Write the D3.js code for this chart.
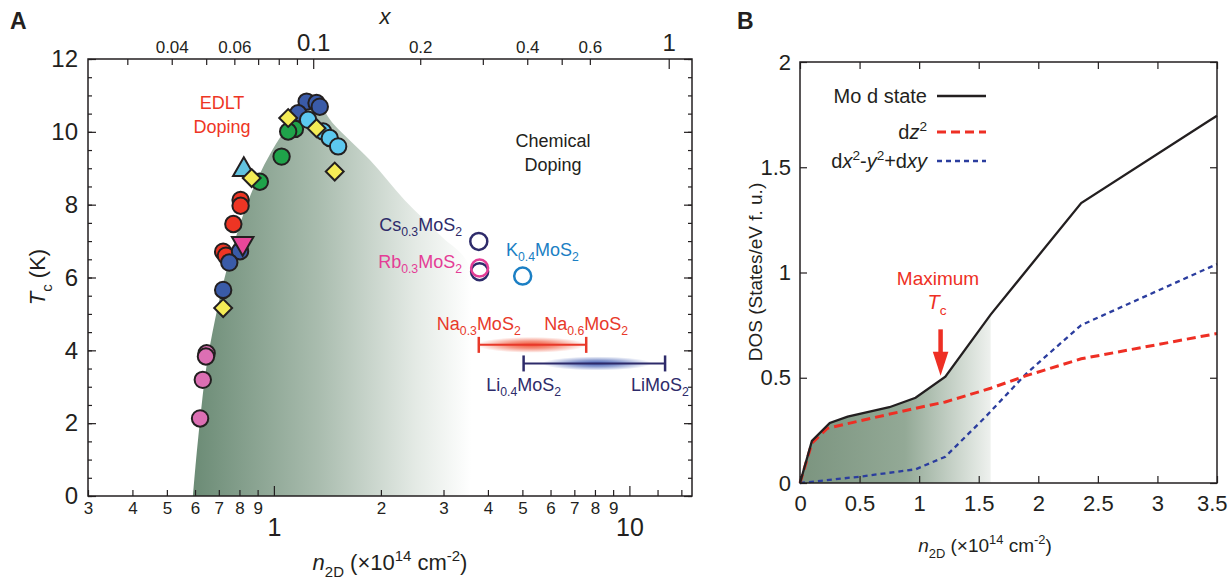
<!DOCTYPE html>
<html>
<head>
<meta charset="utf-8">
<script src="https://cdn.jsdelivr.net/npm/d3@7"></script>
<style>
  body { margin: 0; background: #fff; }
  svg { font-family: "Liberation Sans", Arial, sans-serif; }
</style>
</head>
<body>
<svg width="1229" height="579"></svg>
<script>
// ---- panel A data (n2D in 1e14 cm^-2, Tc in K) ----
var nPerX = 12.9; // n2D corresponding to x = 1
var edltPink = [[0.647,3.92],[0.644,3.83],[0.631,3.19],[0.62,2.13]];
var edltRed = [[0.806,8.13],[0.806,7.97],[0.769,7.47],[0.72,6.71],[0.733,6.6]];
var edltBlue = [[1.236,10.83],[1.318,10.79],[1.346,10.69],[1.17,10.51],[0.803,6.72],[0.749,6.41],[0.72,5.66]];
var edltGreen = [[1.146,10.08],[1.097,10.01],[1.051,9.32],[0.913,8.63]];
var edltLightBlue = [[1.248,10.33],[1.375,10.01],[1.436,9.83],[1.516,9.6]];
var edltYellow = [[1.097,10.38],[1.318,10.1],[1.483,8.91],[0.866,8.73],[0.72,5.16]];
var triUp = [[0.823,8.96]];
var triDown = [[0.817,6.94]];
var domeOutline = [[0.592,0],[0.604,0.99],[0.62,2.09],[0.644,3.46],[0.683,4.84],[0.743,6.35],[0.829,7.86],
  [0.925,8.96],[1.074,10.05],[1.222,10.74],[1.33,10.74],[1.48,10.19],[1.86,9.23],[2.33,8.13],[2.93,7.17],[3.55,6.29],[3.55,0]];
var csPoint = [3.77,6.99], rbPoint = [3.79,6.26], rbDark = [3.79,6.16], kPoint = [5.01,6.04];
var naRange = [3.77,7.56], naTc = 4.15, naCenter = 5.3;
var liRange = [5.04,12.6], liTc = 3.64, liCenter = 8.1;

var bottomSmallTicks = [0.3,0.4,0.5,0.6,0.7,0.8,0.9,2,3,4,5,6,7,8,9];
var bottomBigTicks = [1,10];
var bottomExtraTicks = [12,14];
var topTicks = [0.03,0.04,0.05,0.06,0.07,0.08,0.09,0.2,0.3,0.4,0.5,0.6];
var topSmallLabels = [0.04,0.06,0.2,0.4,0.6];
var topBigTicks = [0.1,1];
var tcTicks = [0,2,4,6,8,10,12];

// ---- panel B data (n2D vs DOS) ----
var moD = [[0,0],[0.1,0.2],[0.25,0.285],[0.4,0.315],[0.75,0.36],[0.97,0.405],[1.22,0.505],[1.6,0.8],[2.36,1.33],[3.43,1.72],[3.5,1.745]];
var dz2 = [[0,0],[0.1,0.19],[0.23,0.26],[0.5,0.295],[0.97,0.355],[1.22,0.385],[1.6,0.45],[1.9,0.51],[2.36,0.59],[3.5,0.71]];
var dxy = [[0,0],[0.5,0.03],[0.97,0.065],[1.22,0.125],[1.55,0.31],[1.9,0.52],[2.36,0.75],[3.5,1.04]];
var shadeMax = 1.6;
var maxTcN = 1.18;
var bTicksX = [0,0.5,1,1.5,2,2.5,3,3.5];
var bTicksY = [0,0.5,1,1.5,2];

var svg = d3.select("svg");
svg.append("rect").attr("width","100%").attr("height","100%").attr("fill","white");
var defs = svg.append("defs");
var ink = "#231f20";

function addAxis(axis, tx, ty, fs) {
  var g = svg.append("g").attr("transform", "translate(" + tx + "," + ty + ")").call(axis);
  g.attr("font-family", null).attr("font-size", fs || 10);
  g.select(".domain").remove();
  g.selectAll("line").attr("stroke", ink).attr("stroke-width", 1.2);
  g.selectAll("text").attr("fill", ink);
  return g;
}

// text with sub/superscripts and italics
function richText(x, y, parts, size, color, anchor) {
  var t = svg.append("text").attr("x", x).attr("y", y).attr("font-size", size)
    .attr("fill", color).attr("text-anchor", anchor || "start");
  var shift = 0;
  parts.forEach(function(p) {
    var s = t.append("tspan").text(p.t);
    var target = p.sub ? size * 0.3 : p.sup ? -size * 0.4 : 0;
    if (target !== shift) { s.attr("dy", target - shift); shift = target; }
    if (p.sub || p.sup) s.attr("font-size", size * 0.68);
    if (p.it) s.attr("font-style", "italic");
  });
  return t;
}

// ================= Panel A =================
var xA = d3.scaleLog().domain([0.3, 15]).range([88, 692]);
var yA = d3.scaleLinear().domain([0, 12]).range([496, 59]);
var xTop = d3.scaleLog().domain([0.3 / nPerX, 15 / nPerX]).range([88, 692]);

var gradA = defs.append("linearGradient").attr("id", "gradA")
  .attr("gradientUnits", "userSpaceOnUse")
  .attr("x1", xA(0.59)).attr("x2", xA(3.6)).attr("y1", 0).attr("y2", 0);
gradA.append("stop").attr("offset", 0).attr("stop-color", "#6b8b75");
gradA.append("stop").attr("offset", 0.45).attr("stop-color", "#a9bcae");
gradA.append("stop").attr("offset", 0.8).attr("stop-color", "#e4eae5");
gradA.append("stop").attr("offset", 1).attr("stop-color", "#ffffff");

svg.append("path")
  .attr("d", d3.line().x(function(d){ return xA(d[0]); }).y(function(d){ return yA(d[1]); })
    .curve(d3.curveCatmullRom)(domeOutline))
  .attr("fill", "url(#gradA)");

// Na / Li ranges with glow
function glow(id, color) {
  var g = defs.append("radialGradient").attr("id", id);
  g.append("stop").attr("offset", 0).attr("stop-color", color).attr("stop-opacity", 0.95);
  g.append("stop").attr("offset", 0.45).attr("stop-color", color).attr("stop-opacity", 0.6);
  g.append("stop").attr("offset", 1).attr("stop-color", color).attr("stop-opacity", 0);
}
glow("naGlow", "#ef4a2c");
glow("liGlow", "#3b58b0");
svg.append("ellipse").attr("cx", xA(naCenter)).attr("cy", yA(naTc)).attr("rx", 55).attr("ry", 8).attr("fill", "url(#naGlow)");
svg.append("ellipse").attr("cx", xA(liCenter)).attr("cy", yA(liTc)).attr("rx", 55).attr("ry", 7).attr("fill", "url(#liGlow)");

function rangeBar(r, tc, color) {
  svg.append("line").attr("x1", xA(r[0])).attr("x2", xA(r[1])).attr("y1", yA(tc)).attr("y2", yA(tc))
    .attr("stroke", color).attr("stroke-width", 2);
  r.forEach(function(v) {
    svg.append("line").attr("x1", xA(v)).attr("x2", xA(v)).attr("y1", yA(tc) - 8).attr("y2", yA(tc) + 8)
      .attr("stroke", color).attr("stroke-width", 2.5);
  });
}
rangeBar(naRange, naTc, "#e8392a");
rangeBar(liRange, liTc, "#2e2b6a");

// EDLT markers
function circles(data, fill) {
  svg.append("g").selectAll("circle").data(data).enter().append("circle")
    .attr("cx", function(d){ return xA(d[0]); }).attr("cy", function(d){ return yA(d[1]); })
    .attr("r", 8.2).attr("fill", fill).attr("stroke", ink).attr("stroke-width", 2);
}
function symbols(data, type, size, fill, rot) {
  svg.append("g").selectAll("path").data(data).enter().append("path")
    .attr("d", d3.symbol().type(type).size(size))
    .attr("transform", function(d){ return "translate(" + xA(d[0]) + "," + yA(d[1]) + ") rotate(" + (rot || 0) + ")"; })
    .attr("fill", fill).attr("stroke", ink).attr("stroke-width", 2);
}
circles(edltPink, "#dc6fb3");
circles(edltRed, "#ee3524");
circles(edltBlue, "#3a5ba8");
circles(edltGreen, "#1fa34a");
circles(edltLightBlue, "#5cc8ef");
symbols(triUp, d3.symbolTriangle, 200, "#62c3e0", 0);
symbols(triDown, d3.symbolTriangle, 200, "#e8479a", 180);
symbols(edltYellow, d3.symbolSquare, 160, "#f5ec56", 45);

// chemical doping open circles
[[csPoint, "#2e2b6a"], [rbDark, "#2e2b6a"], [rbPoint, "#e43d96"], [kPoint, "#1b7fc4"]].forEach(function(p) {
  svg.append("circle").attr("cx", xA(p[0][0])).attr("cy", yA(p[0][1])).attr("r", 8.5)
    .attr("fill", "none").attr("stroke", p[1]).attr("stroke-width", 2.5);
});

// frame + axes A
svg.append("rect").attr("x", 88).attr("y", 59).attr("width", 604).attr("height", 437)
  .attr("fill", "none").attr("stroke", ink).attr("stroke-width", 1.5);

addAxis(d3.axisBottom(xA).tickValues(bottomSmallTicks).tickSize(-6).tickPadding(6)
  .tickFormat(function(d){ return d < 1 ? Math.round(d * 10) : d; }), 0, 496, 17);
addAxis(d3.axisBottom(xA).tickValues(bottomBigTicks).tickSize(-10).tickPadding(22).tickFormat(d3.format("d")), 0, 496, 25);
addAxis(d3.axisBottom(xA).tickValues(bottomExtraTicks).tickSize(-6).tickFormat(""), 0, 496);
addAxis(d3.axisTop(xTop).tickValues(topTicks).tickSize(-6).tickPadding(6)
  .tickFormat(function(d){ return topSmallLabels.indexOf(d) >= 0 ? d : ""; }), 0, 59, 17);
addAxis(d3.axisTop(xTop).tickValues(topBigTicks).tickSize(-10).tickPadding(8).tickFormat(function(d){ return d; }), 0, 59, 24);
addAxis(d3.axisLeft(yA).tickValues(tcTicks).tickSize(-8).tickPadding(10), 88, 0, 24);
addAxis(d3.axisLeft(yA).tickValues(d3.range(0, 12.01, 0.5)).tickSize(-4).tickFormat(""), 88, 0);
addAxis(d3.axisRight(yA).tickValues(tcTicks).tickSize(-8).tickFormat(""), 692, 0);
addAxis(d3.axisRight(yA).tickValues(d3.range(0, 12.01, 0.5)).tickSize(-4).tickFormat(""), 692, 0);

// texts A
svg.append("text").attr("x", 10).attr("y", 29).attr("font-size", 23).attr("font-weight", "bold").attr("fill", ink).text("A");
richText(385, 24, [{t: "x", it: true}], 22, ink, "middle");
richText(390, 570, [{t: "n", it: true}, {t: "2D", sub: true}, {t: " (×10"}, {t: "14", sup: true}, {t: " cm"}, {t: "-2", sup: true}, {t: ")"}], 22, ink, "middle");
richText(0, 0, [{t: "T", it: true}, {t: "c", sub: true}, {t: " (K)"}], 22, ink, "middle")
  .attr("transform", "translate(45,277) rotate(-90)");
svg.append("text").attr("x", 222).attr("y", 109).attr("font-size", 18).attr("fill", "#ee3524").attr("text-anchor", "middle").text("EDLT");
svg.append("text").attr("x", 222).attr("y", 133).attr("font-size", 18).attr("fill", "#ee3524").attr("text-anchor", "middle").text("Doping");
svg.append("text").attr("x", 553).attr("y", 147).attr("font-size", 18).attr("fill", ink).attr("text-anchor", "middle").text("Chemical");
svg.append("text").attr("x", 553).attr("y", 171).attr("font-size", 18).attr("fill", ink).attr("text-anchor", "middle").text("Doping");
richText(462, 231, [{t: "Cs"}, {t: "0.3", sub: true}, {t: "MoS"}, {t: "2", sub: true}], 18, "#2e2b6a", "end");
richText(462, 268, [{t: "Rb"}, {t: "0.3", sub: true}, {t: "MoS"}, {t: "2", sub: true}], 18, "#e43d96", "end");
richText(506, 256, [{t: "K"}, {t: "0.4", sub: true}, {t: "MoS"}, {t: "2", sub: true}], 18, "#1b7fc4", "start");
richText(xA(naRange[0]), 330, [{t: "Na"}, {t: "0.3", sub: true}, {t: "MoS"}, {t: "2", sub: true}], 18, "#e8392a", "middle");
richText(xA(naRange[1]), 330, [{t: "Na"}, {t: "0.6", sub: true}, {t: "MoS"}, {t: "2", sub: true}], 18, "#e8392a", "middle");
richText(xA(liRange[0]), 391, [{t: "Li"}, {t: "0.4", sub: true}, {t: "MoS"}, {t: "2", sub: true}], 18, "#2e2b6a", "middle");
richText(660, 391, [{t: "LiMoS"}, {t: "2", sub: true}], 18, "#2e2b6a", "middle");

// ================= Panel B =================
var xB = d3.scaleLinear().domain([0, 3.5]).range([800, 1217]);
var yB = d3.scaleLinear().domain([0, 2]).range([483, 62]);

var gradB = defs.append("linearGradient").attr("id", "gradB")
  .attr("gradientUnits", "userSpaceOnUse")
  .attr("x1", xB(0)).attr("x2", xB(shadeMax)).attr("y1", 0).attr("y2", 0);
gradB.append("stop").attr("offset", 0).attr("stop-color", "#7b947f");
gradB.append("stop").attr("offset", 0.55).attr("stop-color", "#93a996");
gradB.append("stop").attr("offset", 1).attr("stop-color", "#eef1ee");

svg.append("path")
  .attr("d", d3.area().x(function(d){ return xB(d[0]); }).y0(yB(0)).y1(function(d){ return yB(d[1]); })
    (moD.filter(function(d){ return d[0] <= shadeMax; })))
  .attr("fill", "url(#gradB)");

var lineB = d3.line().x(function(d){ return xB(d[0]); }).y(function(d){ return yB(d[1]); });
svg.append("path").attr("d", lineB(dxy)).attr("fill", "none").attr("stroke", "#2b3d9e")
  .attr("stroke-width", 2.3).attr("stroke-dasharray", "5,4");
svg.append("path").attr("d", lineB(dz2)).attr("fill", "none").attr("stroke", "#ee2f24")
  .attr("stroke-width", 3).attr("stroke-dasharray", "9,5");
svg.append("path").attr("d", lineB(moD)).attr("fill", "none").attr("stroke", ink).attr("stroke-width", 2.3);

// arrow for maximum Tc
svg.append("line").attr("x1", xB(maxTcN)).attr("x2", xB(maxTcN)).attr("y1", yB(0.73)).attr("y2", yB(0.6))
  .attr("stroke", "#ee2f24").attr("stroke-width", 4.5);
svg.append("path").attr("d", d3.symbol().type(d3.symbolTriangle).size(130))
  .attr("transform", "translate(" + xB(maxTcN) + "," + (yB(0.6) + 3) + ") rotate(180) scale(0.9,1.6)")
  .attr("fill", "#ee2f24");
svg.append("text").attr("x", 938).attr("y", 285).attr("font-size", 19).attr("fill", "#ee2f24").attr("text-anchor", "middle").text("Maximum");
richText(937, 309, [{t: "T", it: true}, {t: "c", sub: true}], 20, "#ee2f24", "middle");

// frame + axes B
svg.append("rect").attr("x", 800).attr("y", 62).attr("width", 417).attr("height", 421)
  .attr("fill", "none").attr("stroke", ink).attr("stroke-width", 1.5);
var gbx = addAxis(d3.axisBottom(xB).tickValues(bTicksX).tickSize(-7).tickPadding(12).tickFormat(d3.format("")), 0, 483, 22);
// keep the last label inside the page
gbx.selectAll("text").filter(function(d){ return d === 3.5; }).attr("text-anchor", "end").attr("dx", 10);
addAxis(d3.axisTop(xB).tickValues(bTicksX).tickSize(-7).tickFormat(""), 0, 62);
addAxis(d3.axisLeft(yB).tickValues(bTicksY).tickSize(-7).tickPadding(9).tickFormat(d3.format("")), 800, 0, 22);
addAxis(d3.axisRight(yB).tickValues(bTicksY).tickSize(-7).tickFormat(""), 1217, 0);

// legend B
var legend = [
  {label: [{t: "Mo d state"}], color: ink, dash: null, w: 2.3, y: 96},
  {label: [{t: "d"}, {t: "z", it: true}, {t: "2", sup: true}], color: "#ee2f24", dash: "9,5", w: 3, y: 132},
  {label: [{t: "d"}, {t: "x", it: true}, {t: "2", sup: true}, {t: "-"}, {t: "y", it: true}, {t: "2", sup: true}, {t: "+d"}, {t: "xy", it: true}], color: "#2b3d9e", dash: "5,4", w: 2.3, y: 161}
];
legend.forEach(function(l) {
  richText(927, l.y + 7, l.label, 20, ink, "end");
  svg.append("line").attr("x1", 937).attr("x2", 986).attr("y1", l.y).attr("y2", l.y)
    .attr("stroke", l.color).attr("stroke-width", l.w).attr("stroke-dasharray", l.dash);
});

svg.append("text").attr("x", 737).attr("y", 29).attr("font-size", 23).attr("font-weight", "bold").attr("fill", ink).text("B");
richText(985, 552, [{t: "n", it: true}, {t: "2D", sub: true}, {t: " (×10"}, {t: "14", sup: true}, {t: " cm"}, {t: "-2", sup: true}, {t: ")"}], 19, ink, "middle");
svg.append("text").attr("transform", "translate(762,272) rotate(-90)").attr("font-size", 19)
  .attr("fill", ink).attr("text-anchor", "middle").text("DOS (States/eV f. u.)");
</script>
</body>
</html>
